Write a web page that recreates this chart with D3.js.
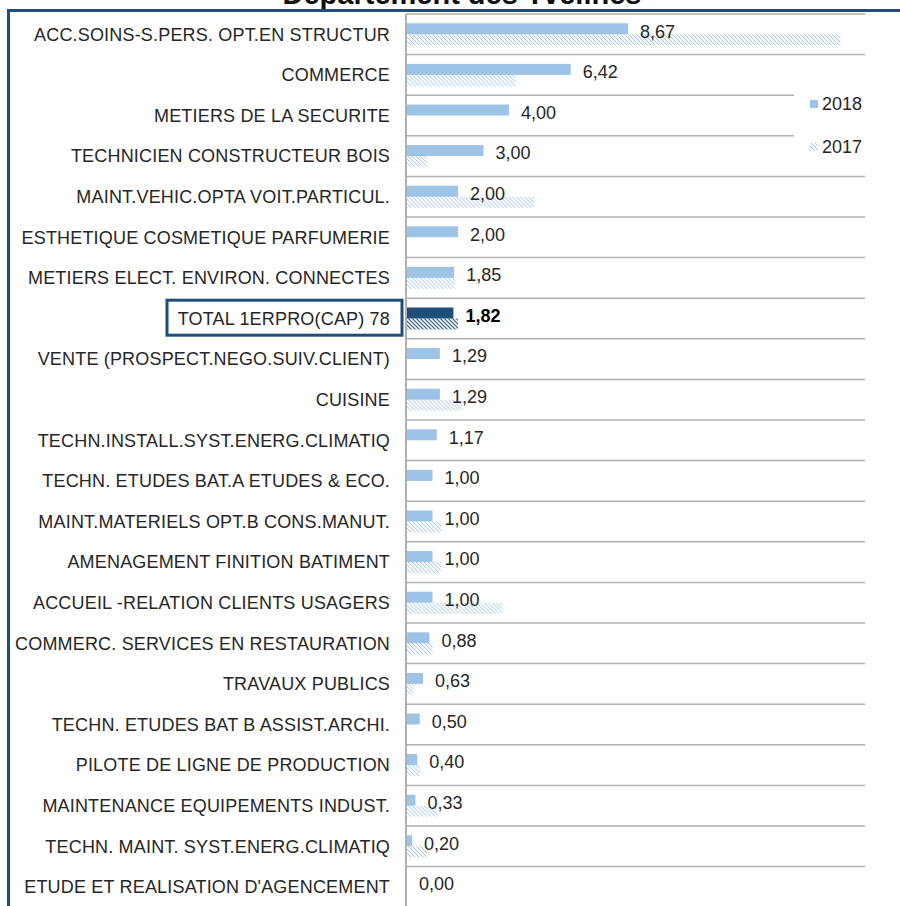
<!doctype html>
<html lang="fr">
<head>
  <meta charset="utf-8">
  <title>Département des Yvelines</title>
  <style>
    html, body { margin: 0; padding: 0; background: white; }
    body { font-family: "Liberation Sans", Arial, sans-serif; color: #262626; }
    svg { display: block; }
  </style>
</head>
<body>
  <div id="chart"></div>
  <script src="https://d3js.org/d3.v7.min.js"></script>
  <script>
    // data
    const categories = [
      "ACC.SOINS-S.PERS. OPT.EN STRUCTUR",
      "COMMERCE",
      "METIERS DE LA SECURITE",
      "TECHNICIEN CONSTRUCTEUR BOIS",
      "MAINT.VEHIC.OPTA VOIT.PARTICUL.",
      "ESTHETIQUE COSMETIQUE PARFUMERIE",
      "METIERS ELECT. ENVIRON. CONNECTES",
      "TOTAL 1ERPRO(CAP) 78",
      "VENTE (PROSPECT.NEGO.SUIV.CLIENT)",
      "CUISINE",
      "TECHN.INSTALL.SYST.ENERG.CLIMATIQ",
      "TECHN. ETUDES BAT.A ETUDES & ECO.",
      "MAINT.MATERIELS OPT.B CONS.MANUT.",
      "AMENAGEMENT FINITION BATIMENT",
      "ACCUEIL -RELATION CLIENTS USAGERS",
      "COMMERC. SERVICES EN RESTAURATION",
      "TRAVAUX PUBLICS",
      "TECHN. ETUDES BAT B ASSIST.ARCHI.",
      "PILOTE DE LIGNE DE PRODUCTION",
      "MAINTENANCE EQUIPEMENTS INDUST.",
      "TECHN. MAINT. SYST.ENERG.CLIMATIQ",
      "ETUDE ET REALISATION D'AGENCEMENT"
    ];
    const values2018 = [8.67, 6.42, 4.00, 3.00, 2.00, 2.00, 1.85, 1.82, 1.29, 1.29, 1.17,
                        1.00, 1.00, 1.00, 1.00, 0.88, 0.63, 0.50, 0.40, 0.33, 0.20, 0.00];
    const values2017 = [17.0, 4.25, 0, 0.78, 5.0, 0, 1.9, 2.0, 0, 2.14, 0,
                        0, 1.35, 1.33, 3.75, 1.0, 0.25, 0, 0.5, 1.17, 0.8, 0];
    const series = ["2018", "2017"];
    const totalName = "TOTAL 1ERPRO(CAP) 78";
    const title = "Département des Yvelines";

    const W = 900, H = 906;
    const light = "#9dc3e6", dark = "#1f4e79", grid = "#b0b0b0";
    const fmt = v => d3.format(".2f")(v).replace(".", ",");

    const svg = d3.select("#chart").append("svg")
      .attr("width", W).attr("height", H);

    const defs = svg.append("defs");
    [["hatchLight", light, 1], ["hatchDark", dark, 1.2]].forEach(([id, col, sw]) => {
      const p = defs.append("pattern").attr("id", id)
        .attr("patternUnits", "userSpaceOnUse").attr("width", 4).attr("height", 4);
      p.append("path").attr("d", "M-1,-1 L5,5 M-1,3 L1,5 M3,-1 L5,1")
        .attr("stroke", col).attr("stroke-width", sw);
    });

    const x = d3.scaleLinear().domain([0, 18]).range([406, 865]);
    const y = d3.scaleBand().domain(categories).range([14, 14 + 22 * 40.6]);
    const bw = y.bandwidth();
    const ys = d3.scaleBand().domain(series).range([bw / 2 - 11, bw / 2 + 11]);

    // title (cut off at the top of the picture, as in the original)
    svg.append("text").attr("x", 462).attr("y", 4)
      .attr("text-anchor", "middle").attr("font-size", 29).attr("font-weight", "bold")
      .attr("fill", "#111").text(title);

    // gridlines between categories
    const bounds = categories.map(c => y(c)).concat([y.range()[1]]);
    svg.append("g").selectAll("line").data(bounds).join("line")
      .attr("x1", x(0)).attr("x2", x(18))
      .attr("y1", d => d).attr("y2", d => d)
      .attr("stroke", grid).attr("stroke-width", 1.5);

    // bars
    const rows = svg.append("g").selectAll("g").data(categories).join("g")
      .attr("transform", d => `translate(0,${y(d)})`);

    rows.append("rect")
      .attr("x", x(0) + 1).attr("y", ys("2018"))
      .attr("width", (d, i) => x(values2018[i]) - x(0))
      .attr("height", ys.bandwidth())
      .attr("fill", d => d === totalName ? dark : light);

    rows.append("rect")
      .attr("x", x(0) + 1).attr("y", ys("2017"))
      .attr("width", (d, i) => x(values2017[i]) - x(0))
      .attr("height", ys.bandwidth())
      .attr("fill", d => d === totalName ? "url(#hatchDark)" : "url(#hatchLight)");

    // value labels
    rows.append("text")
      .attr("x", (d, i) => x(values2018[i]) + 13)
      .attr("y", 23.5)
      .attr("font-size", 18)
      .attr("font-weight", d => d === totalName ? "bold" : "normal")
      .attr("fill", d => d === totalName ? "#000" : "#262626")
      .text((d, i) => fmt(values2018[i]));

    // category labels
    rows.append("text")
      .attr("x", 390).attr("y", bw / 2 + 6.4)
      .attr("text-anchor", "end").attr("font-size", 18).attr("fill", "#262626")
      .attr("letter-spacing", 0.18)
      .text(d => d);

    // frame around the total label
    svg.append("rect")
      .attr("x", 167).attr("y", y(totalName) + 2)
      .attr("width", 235).attr("height", 35)
      .attr("fill", "none").attr("stroke", dark).attr("stroke-width", 3);

    // category axis line
    svg.append("line")
      .attr("x1", x(0)).attr("x2", x(0))
      .attr("y1", 14).attr("y2", H)
      .attr("stroke", grid).attr("stroke-width", 2);

    // legend
    const lg = svg.append("g");
    lg.append("rect").attr("x", 794).attr("y", 88).attr("width", 76).attr("height", 76)
      .attr("fill", "white");
    series.forEach((s, i) => {
      const ly = 104 + i * 43;
      lg.append("rect").attr("x", 810).attr("y", ly - 4).attr("width", 8).attr("height", 8)
        .attr("fill", s === "2018" ? light : "url(#hatchLight)");
      lg.append("text").attr("x", 822).attr("y", ly + 6.4)
        .attr("font-size", 18).attr("fill", "#262626").text(s);
    });

    // outer frame (top and left edges visible)
    svg.append("path")
      .attr("d", `M8.5,${H + 5} L8.5,10.5 L${W + 5},10.5`)
      .attr("fill", "none").attr("stroke", dark).attr("stroke-width", 3);
  </script>
</body>
</html>
